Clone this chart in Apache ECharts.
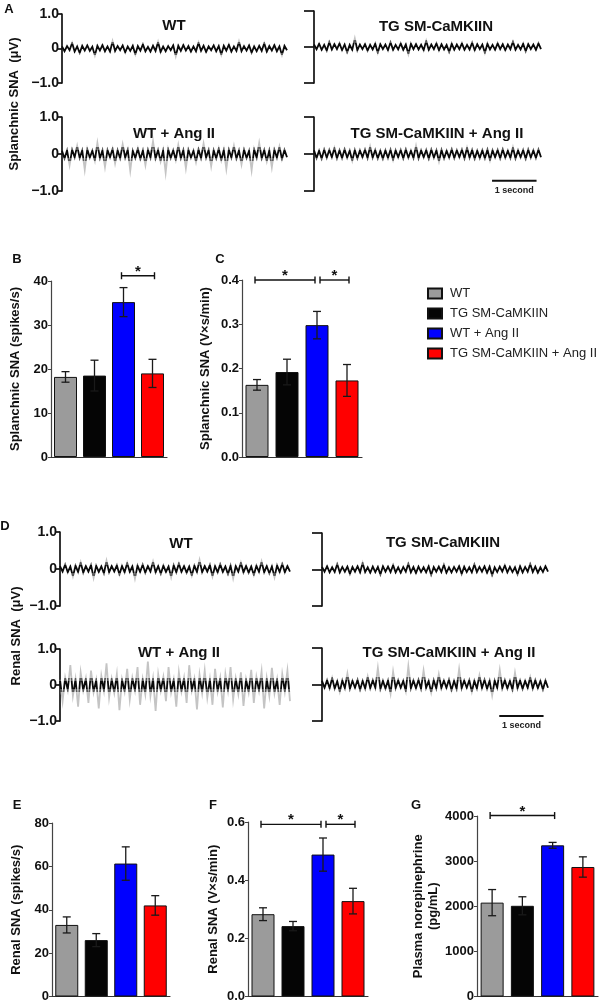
<!DOCTYPE html>
<html><head><meta charset="utf-8">
<script src="https://cdn.jsdelivr.net/npm/echarts@6/dist/echarts.min.js"></script>
<style>html,body{margin:0;padding:0;background:#fff}#c{width:607px;height:1003px}</style>
</head><body><div id="c"></div>
<script>
// ---------------- DATA ----------------
const groups = ['WT', 'TG SM-CaMKIIN', 'WT + Ang II', 'TG SM-CaMKIIN + Ang II'];
const groupColors = ['#9b9b9b', '#050505', '#0000ff', '#ff0000'];

// B: Splanchnic SNA (spikes/s)
const splSpikes = [18.2, 18.5, 35.2, 19.0];
const splSpikesErr = [1.2, 3.5, 3.3, 3.2];
// C: Splanchnic SNA (V×s/min)
const splInt = [0.163, 0.192, 0.298, 0.173];
const splIntErr = [0.012, 0.029, 0.031, 0.036];
// E: Renal SNA (spikes/s)
const renSpikes = [33.0, 26.0, 61.3, 42.0];
const renSpikesErr = [3.7, 3.0, 7.7, 4.5];
// F: Renal SNA (V×s/min)
const renInt = [0.283, 0.242, 0.488, 0.328];
const renIntErr = [0.022, 0.016, 0.057, 0.044];
// G: Plasma norepinephrine (pg/mL)
const plasmaNE = [2080, 2010, 3350, 2870];
const plasmaNEErr = [290, 200, 65, 225];

// significance brackets: [fromGroup, toGroup, level]
const sigB = [[2, 3, 41.2]];
const sigC = [[0, 2, 0.4], [2, 3, 0.4]];
const sigF = [[0, 2, 0.592], [2, 3, 0.592]];
const sigG = [[0, 2, 4010]];

// tick labels
const traceTicks = {'1': '1.0', '0': '0', '-1': '\u22121.0'};

// Recording traces (µV), ~5.1 s each
const traceSeconds = 5.1;
const scaleBarSeconds = [4.0, 5.0];
const splWT = [0.06,-0.08,0.07,-0.05,0.16,-0.09,0.06,-0.13,0.08,-0.06,0.09,-0.07,0.05,-0.2,0.08,-0.06,0.1,-0.08,0.06,-0.09,0.21,-0.07,0.07,-0.05,0.09,-0.11,0.06,-0.07,0.08,-0.17,0.07,-0.06,0.12,-0.08,0.05,-0.09,0.08,-0.07,0.19,-0.1,0.06,-0.08,0.07,-0.05,0.09,-0.22,0.08,-0.07,0.1,-0.06,0.07,-0.09,0.06,-0.08,0.17,-0.07,0.08,-0.1,0.06,-0.05,0.09,-0.08,0.07,-0.18,0.08,-0.06,0.11,-0.09,0.06,-0.07,0.2,-0.08,0.07,-0.06,0.09,-0.12,0.06,-0.08,0.08,-0.07,0.15,-0.09,0.07,-0.06,0.1,-0.08,0.06,-0.19,0.08,-0.05];
const splTG = [0.07,-0.06,0.09,-0.08,0.06,-0.1,0.14,-0.07,0.08,-0.06,0.1,-0.09,0.07,-0.15,0.06,-0.08,0.24,-0.09,0.07,-0.06,0.08,-0.1,0.06,-0.07,0.09,-0.16,0.08,-0.06,0.07,-0.09,0.13,-0.08,0.06,-0.07,0.1,-0.08,0.07,-0.2,0.09,-0.06,0.08,-0.07,0.06,-0.09,0.17,-0.08,0.07,-0.06,0.1,-0.09,0.08,-0.07,0.06,-0.14,0.09,-0.08,0.07,-0.06,0.1,-0.08,0.06,-0.07,0.12,-0.09,0.08,-0.06,0.07,-0.16,0.09,-0.07,0.06,-0.08,0.1,-0.06,0.08,-0.09,0.07,-0.06,0.15,-0.08,0.06,-0.07,0.09,-0.12,0.08,-0.06,0.07,-0.08,0.1,-0.06];
const splWTAng = [0.09,-0.12,0.1,-0.3,0.12,-0.09,0.22,-0.11,0.1,-0.42,0.13,-0.1,0.09,-0.18,0.3,-0.12,0.1,-0.35,0.11,-0.09,0.14,-0.25,0.1,-0.12,0.26,-0.1,0.12,-0.45,0.09,-0.11,0.15,-0.14,0.1,-0.3,0.12,-0.1,0.34,-0.13,0.11,-0.2,0.1,-0.5,0.13,-0.11,0.1,-0.16,0.24,-0.12,0.11,-0.38,0.12,-0.1,0.09,-0.22,0.13,-0.12,0.28,-0.1,0.11,-0.33,0.1,-0.12,0.15,-0.17,0.11,-0.4,0.12,-0.1,0.22,-0.13,0.1,-0.28,0.12,-0.11,0.09,-0.44,0.13,-0.1,0.3,-0.12,0.11,-0.2,0.1,-0.36,0.12,-0.1,0.2,-0.14,0.11,-0.09];
const splTGAng = [0.1,-0.11,0.09,-0.13,0.12,-0.1,0.11,-0.09,0.16,-0.12,0.1,-0.11,0.13,-0.1,0.09,-0.18,0.11,-0.12,0.1,-0.09,0.12,-0.11,0.2,-0.1,0.11,-0.12,0.09,-0.13,0.1,-0.11,0.12,-0.16,0.1,-0.09,0.11,-0.12,0.13,-0.1,0.09,-0.11,0.22,-0.12,0.1,-0.09,0.11,-0.13,0.12,-0.1,0.1,-0.2,0.11,-0.12,0.09,-0.1,0.13,-0.11,0.1,-0.09,0.12,-0.12,0.17,-0.1,0.11,-0.13,0.09,-0.11,0.1,-0.12,0.12,-0.17,0.1,-0.09,0.11,-0.12,0.13,-0.1,0.09,-0.11,0.18,-0.12,0.1,-0.09,0.11,-0.13,0.12,-0.1,0.1,-0.11,0.12,-0.09];
const renWT = [0.08,-0.07,0.12,-0.09,0.07,-0.2,0.09,-0.08,0.18,-0.1,0.08,-0.07,0.11,-0.24,0.09,-0.08,0.07,-0.12,0.22,-0.09,0.08,-0.07,0.1,-0.15,0.08,-0.09,0.16,-0.08,0.07,-0.26,0.09,-0.08,0.12,-0.1,0.08,-0.07,0.2,-0.09,0.08,-0.13,0.09,-0.08,0.07,-0.22,0.1,-0.09,0.15,-0.08,0.08,-0.1,0.07,-0.18,0.09,-0.08,0.24,-0.09,0.08,-0.07,0.11,-0.2,0.08,-0.09,0.13,-0.08,0.07,-0.14,0.09,-0.25,0.08,-0.07,0.17,-0.09,0.08,-0.1,0.07,-0.16,0.09,-0.08,0.2,-0.09,0.08,-0.12,0.07,-0.22,0.1,-0.08,0.14,-0.09,0.08,-0.07];
const renTG = [0.07,-0.06,0.09,-0.08,0.06,-0.07,0.15,-0.08,0.07,-0.06,0.08,-0.12,0.07,-0.06,0.09,-0.08,0.18,-0.07,0.06,-0.09,0.08,-0.07,0.07,-0.14,0.09,-0.06,0.08,-0.07,0.12,-0.08,0.06,-0.09,0.07,-0.06,0.16,-0.08,0.07,-0.1,0.08,-0.07,0.06,-0.08,0.09,-0.15,0.07,-0.06,0.08,-0.07,0.13,-0.09,0.06,-0.08,0.07,-0.06,0.09,-0.12,0.08,-0.07,0.06,-0.08,0.14,-0.07,0.07,-0.06,0.09,-0.09,0.08,-0.16,0.06,-0.07,0.08,-0.06,0.11,-0.08,0.07,-0.07,0.06,-0.13,0.09,-0.08,0.07,-0.06,0.15,-0.07,0.08,-0.09,0.06,-0.07,0.09,-0.06];
const renWTAng = [0.15,-0.45,0.2,-0.14,0.55,-0.3,0.16,-0.6,0.35,-0.15,0.18,-0.5,0.4,-0.2,0.14,-0.65,0.25,-0.16,0.6,-0.35,0.17,-0.22,0.3,-0.7,0.15,-0.18,0.45,-0.4,0.2,-0.15,0.5,-0.55,0.16,-0.25,0.65,-0.3,0.18,-0.72,0.3,-0.16,0.22,-0.45,0.5,-0.2,0.15,-0.6,0.35,-0.18,0.2,-0.5,0.55,-0.15,0.17,-0.68,0.28,-0.22,0.4,-0.35,0.16,-0.55,0.45,-0.18,0.2,-0.62,0.3,-0.16,0.5,-0.4,0.18,-0.25,0.35,-0.58,0.15,-0.2,0.42,-0.5,0.22,-0.16,0.38,-0.65,0.18,-0.3,0.48,-0.22,0.16,-0.55,0.3,-0.18,0.4,-0.45];
const renTGAng = [0.1,-0.09,0.12,-0.1,0.18,-0.11,0.09,-0.2,0.11,-0.1,0.3,-0.12,0.1,-0.09,0.13,-0.15,0.1,-0.11,0.22,-0.1,0.12,-0.09,0.45,-0.13,0.1,-0.11,0.11,-0.25,0.35,-0.1,0.12,-0.09,0.1,-0.18,0.5,-0.11,0.11,-0.1,0.13,-0.12,0.38,-0.09,0.1,-0.22,0.12,-0.11,0.28,-0.1,0.11,-0.09,0.14,-0.16,0.1,-0.12,0.42,-0.1,0.11,-0.09,0.12,-0.2,0.1,-0.11,0.25,-0.1,0.13,-0.12,0.1,-0.3,0.11,-0.09,0.4,-0.1,0.12,-0.11,0.1,-0.15,0.32,-0.1,0.11,-0.12,0.1,-0.09,0.2,-0.11,0.12,-0.1,0.1,-0.14,0.11,-0.09];

// ---------------- LAYOUT ----------------
const FONT = 'Liberation Sans, Arial, Helvetica, sans-serif';
const traces = [
  {data: splWT,     title: 'WT',                     g: {left: 62,  top: 14,  width: 225, height: 69}, labels: true},
  {data: splTG,     title: 'TG SM-CaMKIIN',          g: {left: 314, top: 11,  width: 227, height: 72}, labels: false},
  {data: splWTAng,  title: 'WT + Ang II',            g: {left: 62,  top: 117, width: 225, height: 74}, labels: true},
  {data: splTGAng,  title: 'TG SM-CaMKIIN + Ang II', g: {left: 314, top: 117, width: 227, height: 74}, labels: false, bar: -0.72},
  {data: renWT,     title: 'WT',                     g: {left: 60,  top: 532, width: 230, height: 74}, labels: true},
  {data: renTG,     title: 'TG SM-CaMKIIN',          g: {left: 322, top: 533, width: 226, height: 73}, labels: false},
  {data: renWTAng,  title: 'WT + Ang II',            g: {left: 60,  top: 649, width: 230, height: 72}, labels: true},
  {data: renTGAng,  title: 'TG SM-CaMKIIN + Ang II', g: {left: 322, top: 648, width: 226, height: 73}, labels: false, bar: -0.86}
];
const titlePos = [[174, 26], [436, 27], [174, 134], [437, 134], [181, 544], [443, 543], [179, 653], [449, 653]];

const bars = [
  {vals: splSpikes, errs: splSpikesErr, sig: sigB, g: {left: 51,  top: 281, width: 116, height: 176}, max: 40,   interval: 10,   dec: 0, name: 'Splanchnic SNA (spikes/s)', gap: 28},
  {vals: splInt,    errs: splIntErr,    sig: sigC, g: {left: 242, top: 280, width: 120, height: 177}, max: 0.4,  interval: 0.1,  dec: 1, name: 'Splanchnic SNA (V\u00d7s/min)', gap: 29},
  {vals: renSpikes, errs: renSpikesErr, sig: null, g: {left: 52,  top: 823, width: 118, height: 175}, max: 80,   interval: 20,   dec: 0, name: 'Renal SNA (spikes/s)', gap: 28},
  {vals: renInt,    errs: renIntErr,    sig: sigF, g: {left: 248, top: 822, width: 120, height: 176}, max: 0.6,  interval: 0.2,  dec: 1, name: 'Renal SNA (V\u00d7s/min)', gap: 27},
  {vals: plasmaNE,  errs: plasmaNEErr,  sig: sigG, g: {left: 477, top: 816, width: 121, height: 181}, max: 4000, interval: 1000, dec: 0, name: 'Plasma norepinephrine\n(pg/mL)', gap: 33}
];

const grid = [], xAxis = [], yAxis = [], series = [];
const traceSeriesIdx = [];

traces.forEach((t, k) => {
  grid.push(t.g);
  xAxis.push({type: 'value', gridIndex: k, min: 0, max: traceSeconds, show: false});
  yAxis.push({type: 'value', gridIndex: k, min: -1, max: 1, interval: 1,
    axisLine: {show: true, lineStyle: {color: '#111', width: 1.7}},
    axisTick: {show: true, length: t.labels ? 4 : 10, lineStyle: {color: '#111', width: 1.7}},
    splitLine: {show: false},
    axisLabel: {show: t.labels, margin: 3, color: '#111', fontWeight: 'bold', fontSize: 14, fontFamily: FONT,
      formatter: v => traceTicks[String(Math.round(v))]}});
  const dt = traceSeconds / (t.data.length - 1);
  traceSeriesIdx.push(series.length);
  series.push({type: 'line', xAxisIndex: k, yAxisIndex: k, showSymbol: false, silent: true,
    data: t.data.map((v, i) => [i * dt, v]), lineStyle: {width: 1.8, join: 'miter'}, z: 3});
  if (t.bar !== undefined) {
    series.push({type: 'custom', xAxisIndex: k, yAxisIndex: k, silent: true, z: 4,
      data: [[scaleBarSeconds[0], scaleBarSeconds[1], t.bar]],
      renderItem: (p, api) => {
        const a = api.coord([api.value(0), api.value(2)]);
        const b = api.coord([api.value(1), api.value(2)]);
        return {type: 'group', children: [
          {type: 'line', shape: {x1: a[0], y1: a[1], x2: b[0], y2: b[1]}, style: {stroke: '#111', lineWidth: 2}},
          {type: 'text', style: {text: '1 second', x: (a[0] + b[0]) / 2, y: a[1] + 10, align: 'center', verticalAlign: 'middle',
            fontSize: 9, fontWeight: 'bold', fontFamily: FONT, fill: '#222'}}
        ]};
      }});
  }
});

bars.forEach((b, j) => {
  const gi = traces.length + j;
  grid.push(b.g);
  xAxis.push({type: 'category', gridIndex: gi, data: groups, boundaryGap: true,
    axisLine: {show: true, lineStyle: {color: '#333', width: 1.2}}, axisTick: {show: false}, axisLabel: {show: false}});
  yAxis.push({type: 'value', gridIndex: gi, min: 0, max: b.max, interval: b.interval,
    name: b.name, nameLocation: 'middle', nameGap: b.gap,
    nameTextStyle: {fontWeight: 'bold', fontSize: 13, color: '#111', fontFamily: FONT, lineHeight: 15},
    axisLine: {show: true, lineStyle: {color: '#444', width: 1.2}},
    axisTick: {show: true, length: 3, lineStyle: {color: '#444'}},
    splitLine: {show: false},
    axisLabel: {margin: 3, color: '#111', fontWeight: 'bold', fontSize: 13, fontFamily: FONT,
      formatter: v => v.toFixed(b.dec)}});
  groups.forEach((g, k) => {
    series.push({type: 'bar', name: g, xAxisIndex: gi, yAxisIndex: gi, barWidth: 23, barGap: '-100%',
      data: b.vals.map((v, i) => i === k ? v : '-'),
      itemStyle: {color: groupColors[k], borderColor: '#111', borderWidth: 1}, z: 2});
  });
  series.push({type: 'custom', xAxisIndex: gi, yAxisIndex: gi, silent: true, z: 5,
    data: b.vals.map((m, i) => [i, m - b.errs[i], m + b.errs[i]]),
    renderItem: (p, api) => {
      const lo = api.coord([api.value(0), api.value(1)]);
      const hi = api.coord([api.value(0), api.value(2)]);
      const w = 4, st = {stroke: '#1a1a1a', lineWidth: 1.3};
      return {type: 'group', children: [
        {type: 'line', shape: {x1: lo[0], y1: lo[1], x2: hi[0], y2: hi[1]}, style: st},
        {type: 'line', shape: {x1: hi[0] - w, y1: hi[1], x2: hi[0] + w, y2: hi[1]}, style: st},
        {type: 'line', shape: {x1: lo[0] - w, y1: lo[1], x2: lo[0] + w, y2: lo[1]}, style: st}
      ]};
    }});
  if (b.sig) {
    const starts = b.sig.map(s => s[0]), ends = b.sig.map(s => s[1]);
    series.push({type: 'custom', xAxisIndex: gi, yAxisIndex: gi, silent: true, z: 6, clip: false,
      data: b.sig,
      renderItem: (p, api) => {
        const a = api.value(0), c = api.value(1);
        const p1 = api.coord([a, api.value(2)]), p2 = api.coord([c, api.value(2)]);
        const x1 = p1[0] - 2 + (ends.includes(a) ? 5 : 0);
        const x2 = p2[0] + 2 - (starts.includes(c) ? 4 : 0);
        const y = p1[1], st = {stroke: '#111', lineWidth: 1.4};
        return {type: 'group', children: [
          {type: 'line', shape: {x1: x1, y1: y, x2: x2, y2: y}, style: st},
          {type: 'line', shape: {x1: x1, y1: y - 3.5, x2: x1, y2: y + 3.5}, style: st},
          {type: 'line', shape: {x1: x2, y1: y - 3.5, x2: x2, y2: y + 3.5}, style: st},
          {type: 'text', style: {text: '*', x: (x1 + x2) / 2, y: y - 4, align: 'center', verticalAlign: 'middle',
            fontSize: 15, fontWeight: 'bold', fontFamily: FONT, fill: '#111'}}
        ]};
      }});
  }
});

const graphic = [];
const letters = [['A', 9, 9], ['B', 17, 259], ['C', 220, 259], ['D', 5, 526], ['E', 17, 805], ['F', 213, 805], ['G', 416, 805]];
letters.forEach(l => graphic.push({type: 'text', x: l[1], y: l[2], style: {text: l[0], align: 'center', verticalAlign: 'middle',
  font: 'bold 13px ' + FONT, fill: '#111'}}));
traces.forEach((t, k) => graphic.push({type: 'text', x: titlePos[k][0], y: titlePos[k][1], style: {text: t.title,
  align: 'center', verticalAlign: 'middle', font: 'bold 15px ' + FONT, fill: '#111'}}));
graphic.push({type: 'text', x: 14, y: 104, rotation: Math.PI / 2, style: {text: 'Splanchnic SNA  (\u03bcV)', align: 'center', verticalAlign: 'middle', font: 'bold 13px ' + FONT, fill: '#111'}});
graphic.push({type: 'text', x: 16, y: 636, rotation: Math.PI / 2, style: {text: 'Renal SNA  (\u03bcV)', align: 'center', verticalAlign: 'middle', font: 'bold 13px ' + FONT, fill: '#111'}});

const option = {
  animation: false,
  backgroundColor: '#fff',
  textStyle: {fontFamily: FONT},
  grid, xAxis, yAxis, series, graphic,
  legend: {data: groups, orient: 'vertical', left: 427, top: 287, padding: 0, itemWidth: 14, itemHeight: 10, itemGap: 7,
    icon: 'rect', selectedMode: false, textStyle: {fontSize: 13, color: '#222', fontFamily: FONT, padding: [0, 0, 0, 3]}},
  visualMap: {type: 'piecewise', show: false, dimension: 1, seriesIndex: traceSeriesIdx,
    pieces: [
      {lt: -0.2, color: '#c4c4c4'}, {gte: -0.2, lt: -0.12, color: '#5a5a5a'},
      {gte: -0.12, lte: 0.12, color: '#0a0a0a'},
      {gt: 0.12, lte: 0.2, color: '#5a5a5a'}, {gt: 0.2, color: '#c4c4c4'}]}
};
const chart = echarts.init(document.getElementById('c'), null, {renderer: 'canvas'});
chart.setOption(option);
</script>
</body></html>
